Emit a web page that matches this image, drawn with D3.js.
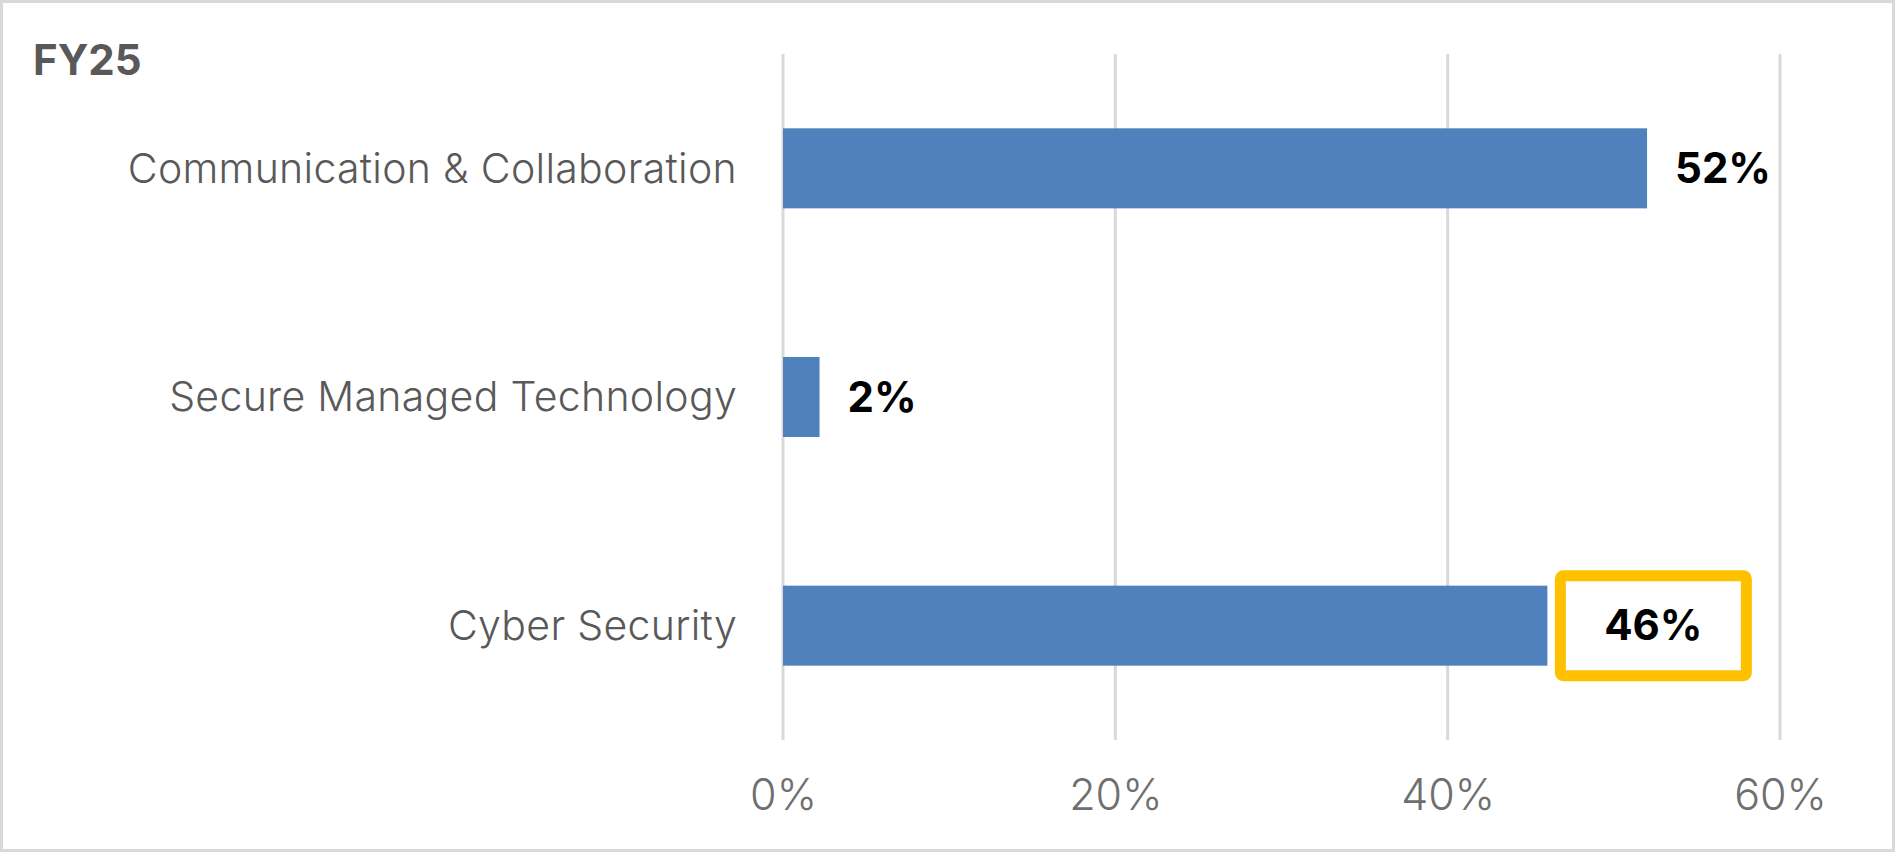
<!DOCTYPE html>
<html>
<head>
<meta charset="utf-8">
<script src="https://cdn.jsdelivr.net/npm/d3@7"></script>
<style>
  html, body { margin: 0; padding: 0; background: #fff; }
  svg { display: block; font-family: Inter, "Noto Sans", sans-serif; }
</style>
</head>
<body>
<div id="chart"></div>
<script>
var WIDTH = 1896, HEIGHT = 852;

// data
var categories = ["Communication & Collaboration", "Secure Managed Technology", "Cyber Security"];
var shares = [52, 2.2, 46];
var valueLabels = ["52%", "2%", "46%"];
var tickValues = [0, 20, 40, 60];
var highlighted = "Cyber Security";

var svg = d3.select("#chart").append("svg")
    .attr("width", WIDTH)
    .attr("height", HEIGHT);

// chart frame
svg.append("rect")
    .attr("x", 1.5).attr("y", 1.5)
    .attr("width", WIDTH - 4).attr("height", HEIGHT - 3)
    .attr("fill", "#fff")
    .attr("stroke", "#d9d9d9")
    .attr("stroke-width", 3);

var x = d3.scaleLinear().domain([0, 60]).range([783, 1780]);
var y = d3.scaleBand().domain(categories).range([54, 740])
    .paddingInner(0.65).paddingOuter(0.325);

// vertical gridlines
svg.append("g").selectAll("line").data(tickValues).join("line")
    .attr("x1", d => x(d)).attr("x2", d => x(d))
    .attr("y1", 54).attr("y2", 740)
    .attr("stroke", "#d9d9d9")
    .attr("stroke-width", 3);

// x axis labels
var xAxis = d3.axisBottom(x).tickValues(tickValues)
    .tickFormat(d => d + "%").tickSize(0).tickPadding(0);
var gx = svg.append("g").attr("transform", "translate(0,795)").call(xAxis);
gx.select(".domain").remove();
gx.selectAll("text")
    .attr("dy", "0.35em")
    .attr("font-size", 43)
    .attr("font-weight", 300)
    .attr("fill", "#6f6f6f")
    .style("font-family", "Inter, 'Noto Sans', sans-serif");

// category labels
var yAxis = d3.axisLeft(y).tickSize(0).tickPadding(0);
var gy = svg.append("g").attr("transform", "translate(737,0)").call(yAxis);
gy.select(".domain").remove();
gy.selectAll("text")
    .attr("dy", "0.35em")
    .attr("font-size", 41)
    .attr("font-weight", 300)
    .attr("letter-spacing", 0.3)
    .attr("fill", "#595959")
    .style("font-family", "Inter, 'Noto Sans', sans-serif");

// bars
svg.append("g").selectAll("rect").data(categories).join("rect")
    .attr("x", x(0))
    .attr("y", d => y(d))
    .attr("width", (d, i) => x(shares[i]) - x(0))
    .attr("height", y.bandwidth())
    .attr("fill", "#4f81bd");

// highlight box round the last label
var hi = categories.indexOf(highlighted);
var boxX = x(shares[hi]) + 13, boxW = 186;
svg.append("rect")
    .attr("x", boxX)
    .attr("y", y(highlighted) + y.bandwidth() / 2 - 50)
    .attr("width", boxW).attr("height", 100)
    .attr("rx", 3)
    .attr("fill", "none")
    .attr("stroke", "#ffc000")
    .attr("stroke-width", 11);

// value labels
svg.append("g").selectAll("text").data(categories).join("text")
    .attr("x", (d, i) => i === hi ? boxX + boxW / 2 : x(shares[i]) + 28)
    .attr("y", d => y(d) + y.bandwidth() / 2)
    .attr("dy", "0.35em")
    .attr("text-anchor", (d, i) => i === hi ? "middle" : "start")
    .attr("font-size", 42)
    .attr("font-weight", 700)
    .attr("fill", "#000")
    .text((d, i) => valueLabels[i]);

// title
svg.append("text")
    .attr("x", 33).attr("y", 75)
    .attr("font-size", 42)
    .attr("font-weight", 700)
    .attr("fill", "#595959")
    .text("FY25");
</script>
</body>
</html>
